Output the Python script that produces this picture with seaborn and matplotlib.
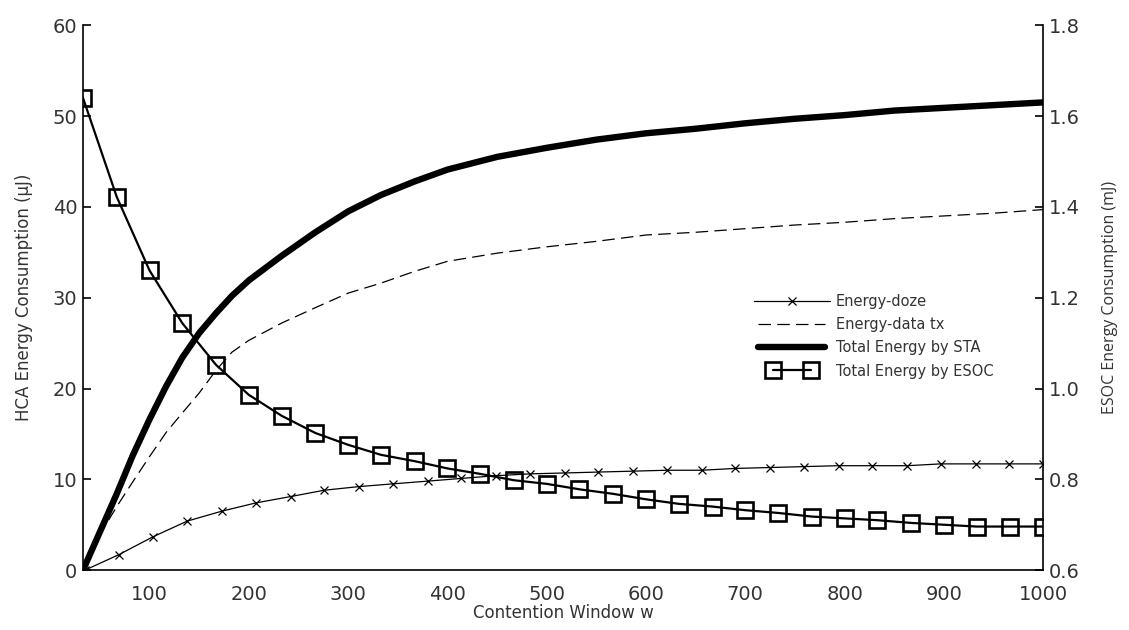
import numpy as np
import matplotlib
matplotlib.use("Agg")
import matplotlib.pyplot as plt
from matplotlib.legend_handler import HandlerLine2D
import seaborn as sns

# contention window grids
w_smooth = [33, 50, 67, 83, 100, 117, 133, 150, 167, 183, 200, 233, 267, 300, 333,
            367, 400, 450, 500, 550, 600, 650, 700, 750, 800, 850, 900, 950, 1000]
w_doze = [35, 69, 104, 138, 173, 207, 242, 276, 311, 345, 380, 414, 449, 483, 518,
          552, 587, 621, 656, 690, 725, 759, 794, 828, 863, 897, 932, 966, 1000]
w_esoc = [33, 67, 100, 133, 167, 200, 233, 267, 300, 333, 367, 400, 433, 467, 500,
          533, 567, 600, 633, 667, 700, 733, 767, 800, 833, 867, 900, 933, 967, 1000]

# HCA energy (uJ), left axis
energy_doze = [0.0, 1.7, 3.7, 5.4, 6.5, 7.4, 8.1, 8.8, 9.2, 9.5, 9.8, 10.1, 10.4, 10.6, 10.7,
               10.8, 10.9, 11.0, 11.0, 11.2, 11.3, 11.4, 11.5, 11.5, 11.5, 11.7, 11.7, 11.7, 11.7]
energy_tx = [0.0, 3.9, 7.0, 9.7, 12.5, 15.2, 17.3, 19.5, 22.0, 24.0, 25.3, 27.2, 28.9, 30.5, 31.6,
             32.9, 34.0, 34.9, 35.6, 36.2, 36.9, 37.2, 37.6, 38.0, 38.3, 38.7, 39.0, 39.3, 39.7]
energy_sta = [0.0, 4.2, 8.4, 12.6, 16.6, 20.3, 23.4, 26.1, 28.3, 30.2, 31.9, 34.6, 37.2, 39.5, 41.3,
              42.8, 44.1, 45.5, 46.5, 47.4, 48.1, 48.6, 49.2, 49.7, 50.1, 50.6, 50.9, 51.2, 51.5]

# ESOC energy (mJ), right axis
energy_esoc = [1.640, 1.422, 1.260, 1.144, 1.052, 0.986, 0.940, 0.902, 0.876, 0.854,
               0.840, 0.824, 0.812, 0.798, 0.790, 0.778, 0.768, 0.756, 0.746, 0.740,
               0.732, 0.726, 0.718, 0.714, 0.710, 0.704, 0.700, 0.696, 0.696, 0.696]

x_ticks = list(range(100, 1001, 100))
left_ticks = list(range(0, 61, 10))
right_ticks = [0.6, 0.8, 1.0, 1.2, 1.4, 1.6, 1.8]

sns.set_style("white")
plt.rcParams["font.family"] = ["DejaVu Sans"]
txt = "#333333"

fig = plt.figure(figsize=(11.29, 6.3), dpi=100)
ax = fig.add_axes([0.0735, 0.095, 0.8505, 0.865])
ax2 = ax.twinx()

sns.lineplot(x=w_doze, y=energy_doze, ax=ax, color="k", lw=0.9, marker="x",
             markersize=6, markeredgewidth=0.9, markeredgecolor="k",
             label="Energy-doze", legend=False)
sns.lineplot(x=w_smooth, y=energy_tx, ax=ax, color="k", lw=0.9, dashes=(10, 5),
             label="Energy-data tx", legend=False)
sns.lineplot(x=w_smooth, y=energy_sta, ax=ax, color="k", lw=4.6,
             label="Total Energy by STA", legend=False)
sns.lineplot(x=w_esoc, y=energy_esoc, ax=ax2, color="k", lw=1.6, marker="s",
             markersize=11, markerfacecolor="none", markeredgecolor="k",
             markeredgewidth=1.9, label="Total Energy by ESOC", legend=False)

ax.set_xlim(33, 1000)
ax.set_ylim(0, 60)
ax2.set_ylim(0.6, 1.8)
ax.set_xticks(x_ticks)
ax.set_yticks(left_ticks)
ax2.set_yticks(right_ticks)
ax2.set_yticklabels([f"{v:.1f}" for v in right_ticks])

for a in (ax, ax2):
    for s in a.spines.values():
        s.set_color("k")
        s.set_linewidth(1.2)
    a.spines["top"].set_visible(False)
ax.spines["right"].set_visible(False)
ax2.spines["left"].set_visible(False)
ax2.spines["bottom"].set_visible(False)

ax.tick_params(axis="y", direction="in", length=6, width=1.2, labelsize=14,
               labelcolor=txt, color="k", pad=4)
ax.tick_params(axis="x", direction="in", length=6, width=1.2, labelsize=14,
               labelcolor=txt, color="k", pad=11)
ax2.tick_params(axis="y", direction="in", length=6, width=1.2, labelsize=14,
                labelcolor=txt, color="k", pad=4)

ax.set_xlabel("Contention Window w", fontsize=12, color=txt, labelpad=0)
ax.set_ylabel("HCA Energy Consumption (\u00b5J)", fontsize=12, color=txt, labelpad=14)
ax2.set_ylabel("ESOC Energy Consumption (mJ)", fontsize=11.5, color=txt,
               family=["Open Sans", "DejaVu Sans"], labelpad=16)

h1, l1 = ax.get_legend_handles_labels()
h2, l2 = ax2.get_legend_handles_labels()
leg = ax2.legend(h1 + h2, l1 + l2, loc="upper left", bbox_to_anchor=(0.685, 0.53),
                 frameon=False, fontsize=10.5, handlelength=5.2, handletextpad=0.4,
                 labelspacing=0.55, numpoints=2,
                 handler_map={h1[0]: HandlerLine2D(numpoints=1),
                              h2[0]: HandlerLine2D(numpoints=2, marker_pad=1.3)})
for t in leg.get_texts():
    t.set_color(txt)

fig.savefig("out.png", dpi=100, facecolor="white")
